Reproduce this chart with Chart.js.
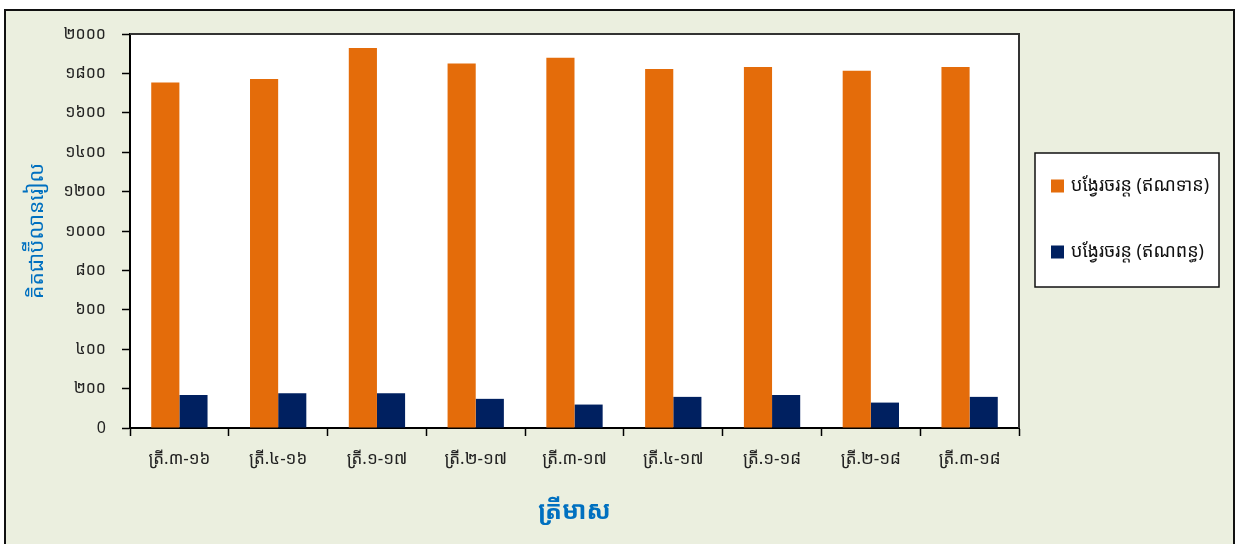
<!DOCTYPE html>
<html><head><meta charset="utf-8">
<script src="https://cdn.jsdelivr.net/npm/chart.js@4/dist/chart.umd.min.js"></script>
<style>html,body{margin:0;padding:0;background:#fff;}#wrap{width:1237px;height:544px;}</style>
</head><body><div id="wrap"><canvas id="c" width="1237" height="544"></canvas></div>
<script>
const categories = ['ត្រី.៣-១៦','ត្រី.៤-១៦','ត្រី.១-១៧','ត្រី.២-១៧','ត្រី.៣-១៧','ត្រី.៤-១៧','ត្រី.១-១៨','ត្រី.២-១៨','ត្រី.៣-១៨'];
const creditValues = [1754, 1772, 1929, 1850, 1879, 1822, 1832, 1813, 1832];
const debitValues = [168, 176, 176, 148, 119, 158, 168, 129, 158];
const seriesNames = ['បង្វែរចរន្ត (ឥណទាន)', 'បង្វែរចរន្ត (ឥណពន្ធ)'];
const yTickLabels = ['0','២០០','៤០០','៦០០','៨០០','១០០០','១២០០','១៤០០','១៦០០','១៨០០','២០០០'];
const yTitle = 'គិតជាប៊ីលានរៀល';
const xTitle = 'ត្រីមាស';

const FONT = '"Noto Sans Khmer","Khmer OS","Khmer OS System","Noto Serif Khmer","DejaVu Sans",sans-serif';

const framePlugin = {
  id: 'frame',
  beforeDraw(chart) {
    const ctx = chart.ctx, a = chart.chartArea;
    ctx.save();
    ctx.fillStyle = '#EBEFDF';
    ctx.fillRect(5, 10, 1229, 540);
    ctx.strokeStyle = '#111';
    ctx.lineWidth = 2;
    ctx.strokeRect(5, 10, 1229, 540);
    ctx.fillStyle = '#ffffff';
    ctx.fillRect(a.left, a.top, a.right - a.left, a.bottom - a.top);
    ctx.restore();
  },
  afterDraw(chart) {
    const ctx = chart.ctx, a = chart.chartArea;
    ctx.save();
    ctx.strokeStyle = '#333';
    ctx.lineWidth = 2;
    ctx.beginPath();
    ctx.moveTo(a.left, a.top); ctx.lineTo(a.right, a.top); ctx.lineTo(a.right, a.bottom);
    ctx.stroke();
    // legend box
    const bx = 1035, by = 153, bw = 184, bh = 134;
    ctx.fillStyle = '#fff';
    ctx.fillRect(bx, by, bw, bh);
    ctx.strokeStyle = '#111';
    ctx.lineWidth = 1.5;
    ctx.strokeRect(bx, by, bw, bh);
    const ys = [186, 252];
    chart.data.datasets.forEach((ds, i) => {
      ctx.fillStyle = ds.backgroundColor;
      ctx.fillRect(1051, ys[i] - 6.5, 13, 13);
      ctx.fillStyle = '#111';
      ctx.font = '18px ' + FONT;
      ctx.textBaseline = 'middle';
      ctx.textAlign = 'left';
      ctx.fillText(ds.label, 1071, ys[i]);
    });
    ctx.restore();
  }
};

new Chart(document.getElementById('c'), {
  type: 'bar',
  data: {
    labels: categories,
    datasets: [
      { label: seriesNames[0], data: creditValues, backgroundColor: '#E46C0A', borderWidth: 0 },
      { label: seriesNames[1], data: debitValues, backgroundColor: '#002060', borderWidth: 0 }
    ]
  },
  options: {
    responsive: false,
    animation: false,
    layout: { padding: { left: 0, right: 218, top: 34, bottom: 0 } },
    plugins: { legend: { display: false }, tooltip: { enabled: false } },
    datasets: { bar: { categoryPercentage: 0.57, barPercentage: 1.0 } },
    scales: {
      x: {
        afterFit(s) { s.height = 116; },
        grid: { display: true, drawOnChartArea: false, drawTicks: true, tickLength: 8, tickWidth: 1.5, tickColor: '#000', offset: true },
        border: { color: '#000', width: 2 },
        ticks: { color: '#222', font: { family: FONT, size: 17 }, padding: 13, maxRotation: 0 },
        title: { display: true, text: xTitle, color: '#0070C0', font: { family: FONT, size: 25, weight: 'bold' }, padding: { top: 0, bottom: 17 } }
      },
      y: {
        min: 0, max: 2000,
        afterFit(s) { s.width = 130; },
        grid: { drawOnChartArea: false, drawTicks: true, tickLength: 8, tickWidth: 1.5, tickColor: '#000' },
        border: { color: '#000', width: 2 },
        ticks: { stepSize: 200, color: '#222', font: { family: FONT, size: 16 }, padding: 16,
                 callback: (v, i) => yTickLabels[i] },
        title: { display: true, text: yTitle, color: '#0070C0', font: { family: FONT, size: 21 }, padding: { top: 24, bottom: 0 } }
      }
    }
  },
  plugins: [framePlugin]
});
</script></body></html>
